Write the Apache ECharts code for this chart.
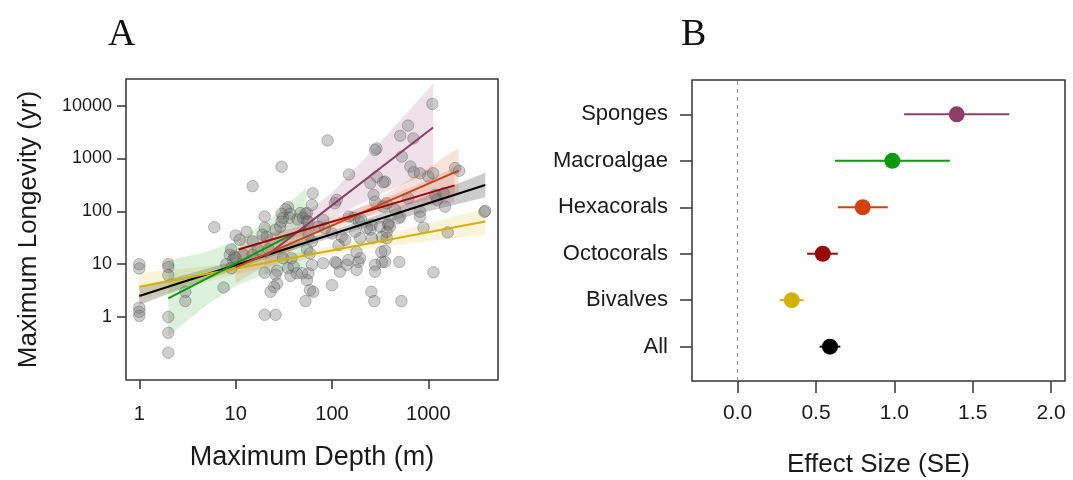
<!DOCTYPE html>
<html>
<head>
<meta charset="utf-8">
<script src="https://cdn.jsdelivr.net/npm/echarts@6/dist/echarts.min.js"></script>
<style>
html, body { margin: 0; padding: 0; background: #fff; }
#chart { width: 1073px; height: 480px; }
</style>
</head>
<body>
<div id="chart"></div>
<script>
// panel A: maximum depth (m) vs maximum longevity (yr), one pair per taxon
var depthM = [
  1, 1, 1, 1, 1, 2, 2, 2, 2, 2, 2, 3, 3, 6, 7.5, 9, 10, 9.7, 9.4, 9,
  15, 30, 90, 280, 290, 1100, 615, 510, 700, 530, 650, 705, 820, 1000, 1120, 1900, 2090, 355, 620, 1180,
  1440, 1230, 1490, 450, 510, 490, 385, 820, 820, 370, 3820, 3900, 890, 1590, 370, 355, 355, 500, 1130, 525,
  63, 20, 35, 33, 30, 31, 36, 37, 47, 55, 62, 13, 11, 15, 20, 19, 21, 26, 29, 30,
  44, 50, 55, 53, 62, 55, 59, 17, 22, 12, 15, 150, 292, 250, 340, 112, 107, 270, 280, 340,
  150, 170, 190, 200, 258, 316, 385, 370, 81, 72, 85, 57, 57, 100, 126, 137, 117, 174, 196, 230,
  250, 260, 330, 400, 8.7, 10, 8, 20, 26, 27, 25, 23, 20, 26, 35, 40, 43, 37, 49, 55,
  57, 62, 59, 64, 53, 31, 38, 81, 108, 112, 142, 148, 188, 196, 180, 121, 280, 280, 330, 325,
  100, 256, 275, 180, 27
];
var longevityYr = [
  10, 8.3, 1.5, 1.25, 1.05, 10, 8.8, 6.2, 1, 0.5, 0.21, 3, 2, 50, 3.6, 19, 35, 14, 12, 8.4,
  300, 700, 2200, 1450, 1550, 10800, 4200, 2700, 2400, 1090, 705, 550, 525, 455, 525, 660, 585, 365, 177, 204,
  220, 165, 123, 107, 79, 74, 59, 98, 79, 142, 98, 102, 49, 40, 31, 18, 11, 11, 7, 2,
  220, 80, 120, 110, 90, 75, 75, 90, 93, 93, 132, 41, 29, 27, 49, 36, 33, 45, 51, 64,
  70, 75, 65, 90, 27, 19, 16, 19, 19, 15, 15, 500, 455, 340, 355, 165, 142, 204, 152, 123,
  80, 75, 65, 70, 55, 51, 55, 41, 69, 51, 48, 64, 36, 38, 33, 29, 23, 41, 31, 48,
  45, 31, 33, 51, 15, 13, 10, 6.9, 6.3, 4.3, 3.7, 3.0, 1.1, 1.1, 8.4, 9, 6.7, 6, 6.7, 5,
  6.7, 9.7, 3.2, 3, 2, 13, 13, 10.4, 11, 10.4, 9.7, 12, 11, 13, 7.8, 7.2, 9.7, 7.2, 11, 17,
  4, 3, 2, 17, 7.5
];

// fitted lines (end points) and their confidence bands
var fitNames = ['All', 'Bivalves', 'Macroalgae', 'Sponges', 'Hexacorals', 'Octocorals'];
var fitColors = ['#000000', '#D4B106', '#0A9A0A', '#8E3C68', '#D2400C', '#960A0A'];
var bandFills = ['rgba(0,0,0,0.2)', 'rgba(212,177,6,0.15)', 'rgba(10,154,10,0.14)',
                 'rgba(142,60,104,0.15)', 'rgba(210,64,12,0.15)', 'rgba(150,10,10,0.12)'];
var fitDepth = [[1, 3900], [1, 3900], [2, 54], [20, 1120], [10, 2060], [10.7, 1870]];
var fitLongevity = [[2.5, 315], [3.75, 64], [2.26, 50], [13.6, 3850], [8.7, 590], [19, 310]];

var bandDepth = [
  [1, 3, 10, 30, 100, 300, 1000, 3900],
  [1, 3, 10, 30, 100, 300, 1000, 3900],
  [2, 5, 10, 20, 54],
  [20, 40, 100, 316, 1120],
  [10, 30, 100, 300, 1000, 2060],
  [11, 30, 100, 300, 1000, 1870]
];
var bandLow = [
  [1.69, 3.6, 8.0, 15.9, 31.8, 57.1, 100.7, 185],
  [2.06, 3.61, 6.41, 10.0, 15.1, 20.6, 27.1, 35.9],
  [0.43, 1.69, 3.86, 6.41, 8.69],
  [5.69, 20.7, 75, 211, 569],
  [4.35, 14.0, 42.8, 97.5, 167, 220],
  [12.1, 26.4, 53.3, 88.7, 127, 149]
];
var bandHigh = [
  [3.70, 6.27, 11.6, 21.0, 43.0, 86.5, 201, 535],
  [6.82, 8.28, 10.6, 14.5, 21.9, 34.2, 59.3, 113.5],
  [11.9, 16.9, 26.7, 58.5, 275],
  [32.7, 62.4, 226, 2018, 26000],
  [17.3, 30.6, 67.8, 169, 667, 1596],
  [30.5, 41.9, 77.1, 154, 401, 679]
];

// panel B: effect sizes with intervals
var taxa = ['All', 'Bivalves', 'Octocorals', 'Hexacorals', 'Macroalgae', 'Sponges'];
var taxaColors = ['#000000', '#D4B106', '#960A0A', '#D2400C', '#0A9A0A', '#8E3C68'];
var effect = [0.589, 0.345, 0.543, 0.798, 0.987, 1.398];
var effectLow = [0.523, 0.268, 0.443, 0.640, 0.621, 1.062];
var effectHigh = [0.655, 0.421, 0.639, 0.958, 1.354, 1.733];
var effectTicks = [0, 0.5, 1, 1.5, 2];

var font = 'Liberation Sans, Arial, sans-serif';
var ink = '#1a1a1a';

var points = depthM.map(function (d, i) { return [d, longevityYr[i]]; });

var series = [];

// bands
series.push({
  type: 'custom',
  xAxisIndex: 0, yAxisIndex: 0,
  silent: true, z: 1,
  data: bandDepth.map(function (b, i) { return [b[0], bandLow[i][0], i]; }),
  renderItem: function (params, api) {
    var i = params.dataIndex;
    var pts = [];
    for (var k = 0; k < bandDepth[i].length; k++) pts.push(api.coord([bandDepth[i][k], bandHigh[i][k]]));
    for (var k = bandDepth[i].length - 1; k >= 0; k--) pts.push(api.coord([bandDepth[i][k], bandLow[i][k]]));
    return { type: 'polygon', shape: { points: pts }, style: { fill: bandFills[i] } };
  }
});

series.push({
  type: 'scatter',
  xAxisIndex: 0, yAxisIndex: 0,
  z: 2, silent: true,
  symbolSize: 11.5,
  itemStyle: { color: 'rgba(110,110,110,0.34)', borderColor: 'rgba(60,60,60,0.3)', borderWidth: 1, opacity: 1 },
  data: points
});

fitNames.forEach(function (name, i) {
  series.push({
    name: name,
    type: 'line',
    xAxisIndex: 0, yAxisIndex: 0,
    z: 3, silent: true,
    showSymbol: false,
    lineStyle: { color: fitColors[i], width: 2 },
    data: [[fitDepth[i][0], fitLongevity[i][0]], [fitDepth[i][1], fitLongevity[i][1]]]
  });
});

// panel B error bars
series.push({
  type: 'custom',
  xAxisIndex: 1, yAxisIndex: 1,
  silent: true, z: 3,
  encode: { x: [0, 1], y: 2 },
  data: taxa.map(function (t, i) { return [effectLow[i], effectHigh[i], i + 1]; }),
  renderItem: function (params, api) {
    var a = api.coord([api.value(0), api.value(2)]);
    var b = api.coord([api.value(1), api.value(2)]);
    return {
      type: 'line',
      shape: { x1: a[0], y1: a[1], x2: b[0], y2: b[1] },
      style: { stroke: taxaColors[params.dataIndex], lineWidth: 2 }
    };
  }
});

series.push({
  type: 'scatter',
  xAxisIndex: 1, yAxisIndex: 1,
  z: 4, silent: true,
  symbolSize: 16,
  data: taxa.map(function (t, i) {
    return { value: [effect[i], i + 1], itemStyle: { color: taxaColors[i], opacity: 1 } };
  }),
  markLine: {
    silent: true,
    symbol: 'none',
    label: { show: false },
    lineStyle: { color: '#999', type: [4, 4], width: 1.2 },
    data: [{ xAxis: 0 }]
  }
});

var tickStyle = { color: '#333', width: 1.5 };

var option = {
  animation: false,
  backgroundColor: '#fff',
  title: [
    { text: 'A', left: 103, top: 11, textStyle: { fontFamily: 'Liberation Serif, serif', fontSize: 38, fontWeight: 'normal', color: '#111' } },
    { text: 'B', left: 676, top: 11, textStyle: { fontFamily: 'Liberation Serif, serif', fontSize: 38, fontWeight: 'normal', color: '#111' } }
  ],
  grid: [
    { left: 126, top: 79, width: 372, height: 301, show: true, borderColor: '#333', borderWidth: 1.5,
      backgroundColor: 'transparent', outerBoundsMode: 'none' },
    { left: 692, top: 80, width: 373, height: 301, show: true, borderColor: '#333', borderWidth: 1.5,
      backgroundColor: 'transparent', outerBoundsMode: 'none' }
  ],
  xAxis: [
    {
      type: 'log', logBase: 10, gridIndex: 0, min: 0.728, max: 5284,
      axisLine: { show: false, onZero: false }, splitLine: { show: false },
      axisTick: { show: true, length: 9, customValues: [1, 10, 100, 1000], lineStyle: tickStyle },
      axisLabel: { customValues: [1, 10, 100, 1000], formatter: function (v) { return String(Math.round(v)); },
                   fontFamily: font, fontSize: 20, color: ink, margin: 24 },
      name: 'Maximum Depth (m)', nameLocation: 'middle', nameGap: 64,
      nameTextStyle: { fontFamily: font, fontSize: 27, color: ink }
    },
    {
      type: 'value', gridIndex: 1, min: -0.2917, max: 2.089,
      axisLine: { show: false, onZero: false }, splitLine: { show: false },
      axisTick: { show: true, length: 12, customValues: effectTicks, lineStyle: tickStyle },
      axisLabel: { customValues: effectTicks, formatter: function (v) { return v.toFixed(1); },
                   fontFamily: font, fontSize: 21, color: ink, margin: 22 },
      name: 'Effect Size (SE)', nameLocation: 'middle', nameGap: 71,
      nameTextStyle: { fontFamily: font, fontSize: 26, color: ink }
    }
  ],
  yAxis: [
    {
      type: 'log', logBase: 10, gridIndex: 0, min: 0.0641, max: 31990,
      axisLine: { show: false, onZero: false }, splitLine: { show: false },
      axisTick: { show: true, length: 9, customValues: [1, 10, 100, 1000, 10000], lineStyle: tickStyle },
      axisLabel: { customValues: [1, 10, 100, 1000, 10000], formatter: function (v) { return String(Math.round(v)); },
                   fontFamily: font, fontSize: 18, color: ink, margin: 14 },
      name: 'Maximum Longevity (yr)', nameLocation: 'middle', nameGap: 84, nameRotate: 90,
      nameTextStyle: { fontFamily: font, fontSize: 26, color: ink }
    },
    {
      type: 'value', gridIndex: 1, min: 0.26, max: 6.74,
      axisLine: { show: false, onZero: false }, splitLine: { show: false },
      axisTick: { show: true, length: 12, customValues: [1, 2, 3, 4, 5, 6], lineStyle: tickStyle },
      axisLabel: { customValues: [1, 2, 3, 4, 5, 6], formatter: function (v) { return taxa[Math.round(v) - 1]; },
                   fontFamily: font, fontSize: 22, color: ink, margin: 24 }
    }
  ],
  series: series
};

var myChart = echarts.init(document.getElementById('chart'));
myChart.setOption(option);
</script>
</body>
</html>
